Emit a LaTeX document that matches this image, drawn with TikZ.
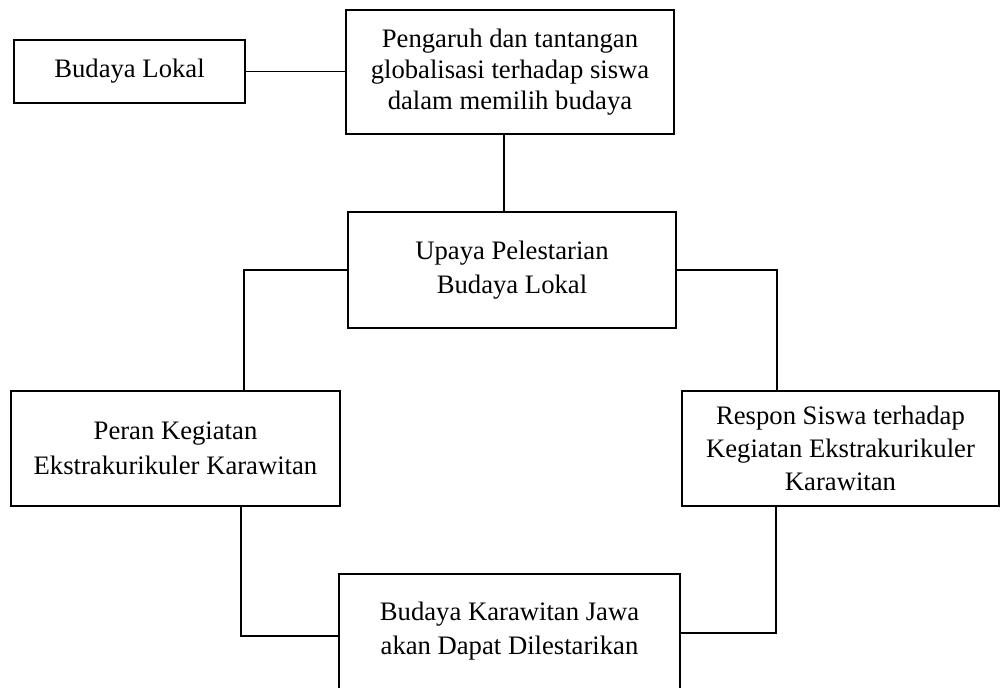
\documentclass[tikz,border=0pt]{standalone}
\usepackage{fontspec}
\setmainfont{Liberation Serif}
\begin{document}
\begin{tikzpicture}[x=0.75pt,y=-0.75pt,
  box/.style={draw, line width=1.7pt, align=center, inner sep=0pt, fill=white},
  txt/.style={font=\fontsize{20}{26}\selectfont},
  conn/.style={line width=1.3pt}]
\fill[white] (0,0) rectangle (1001,688);
\useasboundingbox (0,0) rectangle (1001,688);
\clip (0,0) rectangle (1001,688);

\node[box, txt, minimum width=173.25pt, minimum height=47.25pt] (bl) at (129.5,71.5) {Budaya Lokal};
\node[box, minimum width=246pt, minimum height=93pt, font=\fontsize{20}{23.5}\selectfont] (pg) at (510,72)
  {Pengaruh dan tantangan\\globalisasi terhadap siswa\\dalam memilih budaya};
\node[box, txt, minimum width=246pt, minimum height=87pt] (up) at (512,270)
  {Upaya Pelestarian\\Budaya Lokal};
\node[box, txt, minimum width=246.75pt, minimum height=86.25pt] (pr) at (175.5,448.5)
  {Peran Kegiatan\\Ekstrakurikuler Karawitan};
\node[box, minimum width=237.75pt, minimum height=86.25pt, font=\fontsize{20}{24.5}\selectfont] (rs) at (840.5,448.5)
  {Respon Siswa terhadap\\Kegiatan Ekstrakurikuler\\Karawitan};
\node[box, minimum width=255.75pt, minimum height=102pt] (bk) at (509.5,642) {};
\node[txt, align=center, inner sep=0pt] (bkt) at (509.5,631)
  {Budaya Karawitan Jawa\\akan Dapat Dilestarikan};

\coordinate (xl) at (244,0);
\coordinate (xr) at (777,0);
\coordinate (xl2) at (241,0);
\coordinate (xr2) at (776,0);
\coordinate (yl) at (0,636);
\coordinate (yr) at (0,633);
\coordinate (xv) at (504,0);

\draw[conn] (bl.east) -- (bl.east -| pg.west);
\draw[conn] (xv |- pg.south) -- (xv |- up.north);
\draw[conn] (up.west) -| (xl |- pr.north);
\draw[conn] (up.east) -| (xr |- rs.north);
\draw[conn] (xl2 |- pr.south) |- (bk.west |- yl);
\draw[conn] (xr2 |- rs.south) |- (bk.east |- yr);
\end{tikzpicture}
\end{document}
